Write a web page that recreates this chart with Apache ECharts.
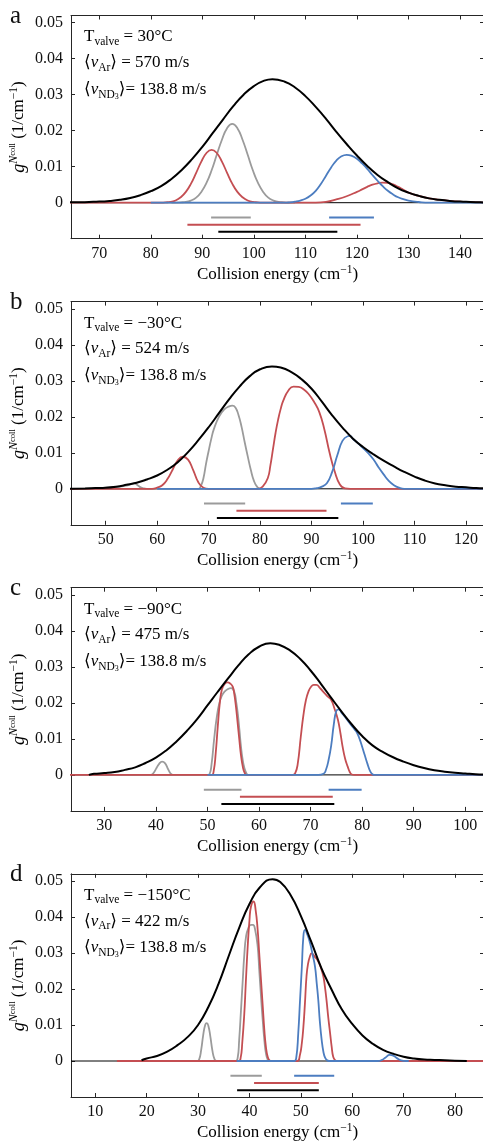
<!DOCTYPE html>
<html><head><meta charset="utf-8">
<script src="https://cdn.jsdelivr.net/npm/echarts@6/dist/echarts.min.js"></script>
<style>html,body{margin:0;padding:0;background:#fff}#c{width:483px;height:1143px}</style>
</head><body><div id="c"></div>
<script>
// ---------------- DATA ----------------
const panelLetters = ['a', 'b', 'c', 'd'];
const valveTemps = ['30', '\u221230', '\u221290', '\u2212150'];
const vArValues = ['570', '524', '475', '422'];
const vND3Value = '138.8';
const yTicks = [0, 0.01, 0.02, 0.03, 0.04, 0.05];
const yLimits = [-0.01, 0.052];
const aXTicks = [70, 80, 90, 100, 110, 120, 130, 140];
const bXTicks = [50, 60, 70, 80, 90, 100, 110, 120];
const cXTicks = [30, 40, 50, 60, 70, 80, 90, 100];
const dXTicks = [10, 20, 30, 40, 50, 60, 70, 80];
const aXLimits = [64.51, 144.66];
const bXLimits = [43.26, 123.5];
const cXLimits = [23.54, 103.63];
const dXLimits = [5.27, 85.65];
// order of range bars below zero: gray, blue, red, black
const segLevels = [-0.0041, -0.0041, -0.0061, -0.0081];
const aSegments = [[91.7, 99.4], [114.6, 123.3], [87.1, 120.7], [93.1, 116.2]];
const bSegments = [[69.1, 77.1], [95.7, 101.9], [75.4, 92.9], [71.6, 95.2]];
const cSegments = [[49.3, 56.6], [73.5, 79.9], [56.3, 74.3], [52.7, 74.6]];
const dSegments = [[36.3, 42.4], [48.7, 56.5], [40.9, 53.5], [37.6, 53.5]];

const aBlack = [[64,0.0001],[66,0.0001],[68,0.0002],[70,0.0003],[72,0.0005],[74,0.0008],[76,0.0013],[78,0.0021],[80,0.0032],[82,0.0046],[84,0.0066],[86,0.0091],[88,0.0121],[90,0.0155],[92,0.0193],[94,0.0231],[96,0.0268],[98,0.0300],[100,0.0324],[102,0.0339],[103.6,0.0343],[106,0.0336],[108,0.0320],[110,0.0296],[112,0.0266],[114,0.0233],[116,0.0197],[118,0.0163],[120,0.0131],[122,0.0102],[124,0.0077],[126,0.0057],[128,0.0040],[130,0.0028],[132,0.0019],[134,0.0012],[136,0.0008],[138,0.0005],[140,0.0003],[142,0.0002],[144,0.0001],[146,0]];
const aGray = [[84,0],[85.8,0.0001],[86.8,0.0002],[87.8,0.0006],[88.8,0.0014],[89.8,0.0030],[90.8,0.0055],[91.8,0.0090],[92.8,0.0133],[93.8,0.0175],[94.8,0.0207],[95.8,0.0219],[96.8,0.0207],[97.8,0.0175],[98.8,0.0133],[99.8,0.0090],[100.8,0.0055],[101.8,0.0030],[102.8,0.0014],[103.8,0.0006],[104.8,0.0002],[105.8,0.0001],[106.8,0],[108,0]];
const aRed = [[64,0],[80,0],[81.8,0],[82.8,0.0001],[83.8,0.0002],[84.8,0.0006],[85.8,0.0015],[86.8,0.0030],[87.8,0.0053],[88.8,0.0083],[89.8,0.0114],[90.8,0.0138],[91.8,0.0147],[92.8,0.0138],[93.8,0.0114],[94.8,0.0083],[95.8,0.0053],[96.8,0.0030],[97.8,0.0015],[98.8,0.0006],[99.8,0.0002],[100.8,0.0001],[101.8,0],[112,0],[114,0.0002],[116,0.0009],[118,0.0018],[120,0.0030],[121,0.0037],[122,0.0044],[123,0.0050],[124,0.0054],[125,0.0056],[126,0.0055],[127,0.0051],[128,0.0044],[129,0.0036],[130,0.0028],[132,0.0019],[134,0.0012],[136,0.0008],[138,0.0005],[140,0.0003],[142,0.0002],[144,0.0001],[146,0]];
const aBlue = [[80,0],[106,0],[107,0.0001],[108,0.0003],[109,0.0006],[110,0.0011],[111,0.0020],[112,0.0033],[113,0.0052],[114,0.0075],[115,0.0098],[116,0.0117],[117,0.0129],[118,0.0133],[119,0.0130],[120,0.0122],[121,0.0109],[122,0.0094],[123,0.0077],[124,0.0061],[125,0.0046],[126,0.0033],[127,0.0023],[128,0.0015],[129,0.0010],[130,0.0006],[132,0.0002],[134,0],[146,0]];

const bBlack = [[43,0],[46,0.0001],[48,0.0002],[50,0.0003],[52,0.0006],[54,0.0011],[56,0.0017],[58,0.0026],[60,0.0037],[62,0.0053],[64,0.0074],[66,0.0102],[68,0.0135],[70,0.0171],[72,0.0210],[74,0.0249],[76,0.0284],[78,0.0313],[80,0.0332],[82.3,0.0340],[84,0.0337],[86,0.0325],[88,0.0305],[90,0.0278],[92,0.0242],[94,0.0204],[96,0.0170],[98,0.0140],[100,0.0116],[102,0.0096],[104,0.0078],[106,0.0062],[108,0.0047],[110,0.0034],[112,0.0023],[114,0.0015],[116,0.0010],[118,0.0006],[120,0.0004],[122,0.0002],[124,0.0001]];
const bGray = [[43.5,0],[48,0.0001],[50,0.0003],[52,0.0005],[54,0.0009],[55,0.0013],[55.6,0.0015],[56.2,0.0010],[56.8,0.0004],[57.4,0.0001],[58,0],[68,0],[68.5,0.0008],[69,0.0030],[69.5,0.0070],[70,0.0105],[70.5,0.0138],[71,0.0165],[72,0.0200],[73,0.0220],[74,0.0229],[74.6,0.0231],[75.2,0.0226],[75.8,0.0205],[76.4,0.0172],[77,0.0130],[77.6,0.0090],[78.2,0.0052],[78.8,0.0022],[79.4,0.0006],[80,0],[82,0]];
const bRed = [[43,0],[59,0],[60,0.0003],[61,0.0010],[62,0.0027],[63,0.0053],[64,0.0079],[65,0.0089],[66,0.0081],[67,0.0052],[68,0.0018],[69,0.0003],[70,0],[79.5,0],[80.5,0.0006],[81.5,0.0030],[82,0.0065],[82.5,0.0110],[83,0.0155],[83.5,0.0192],[84,0.0222],[84.5,0.0245],[85.5,0.0273],[86.5,0.0284],[87.5,0.0283],[88.5,0.0276],[89.5,0.0262],[90.5,0.0241],[91.5,0.0213],[92.5,0.0164],[93.5,0.0100],[94.5,0.0048],[95.5,0.0012],[96.5,0.0001],[97.5,0],[124,0]];
const bBlue = [[60,0],[90,0],[91,0.0002],[92,0.0006],[93,0.0016],[94,0.0047],[95,0.0093],[96,0.0133],[97,0.0146],[97.5,0.0147],[98,0.0139],[99,0.0127],[100,0.0113],[101,0.0099],[102,0.0082],[103,0.0060],[104,0.0040],[105,0.0022],[106,0.0010],[107,0.0003],[108,0],[124,0]];

const cBlack = [[27,0],[28,0.0003],[30,0.0005],[32,0.0008],[34,0.0014],[36,0.0021],[38,0.0033],[40,0.0048],[42,0.0068],[44,0.0093],[46,0.0122],[48,0.0155],[50,0.0193],[52,0.0231],[54,0.0268],[56,0.0304],[58,0.0335],[60,0.0356],[62.2,0.0366],[64,0.0361],[66,0.0346],[68,0.0322],[70,0.0290],[72,0.0253],[74,0.0214],[76,0.0176],[78,0.0140],[80,0.0108],[82,0.0082],[84,0.0064],[86,0.0049],[88,0.0037],[90,0.0027],[92,0.0019],[94,0.0013],[96,0.0009],[98,0.0006],[100,0.0004],[102,0.0002],[104,0.0001]];
const cGray = [[27,0],[38.8,0],[39.4,0.0003],[40,0.0016],[40.6,0.0030],[41.2,0.0037],[41.8,0.0032],[42.4,0.0015],[43,0.0002],[43.5,0],[50,0],[50.4,0.0002],[50.8,0.0030],[51.3,0.0100],[51.8,0.0160],[52.3,0.0199],[52.8,0.0220],[53.3,0.0231],[53.9,0.0238],[54.6,0.0241],[55.2,0.0231],[55.6,0.0200],[55.9,0.0168],[56.2,0.0125],[56.5,0.0079],[56.8,0.0045],[57.15,0.0020],[57.5,0.0006],[57.9,0],[60,0]];
const cRed = [[23,0],[50.8,0],[51.2,0.0010],[51.6,0.0060],[52,0.0134],[52.4,0.0200],[52.8,0.0237],[53.3,0.0252],[53.9,0.0257],[54.4,0.0254],[54.9,0.0245],[55.2,0.0225],[55.5,0.0193],[55.85,0.0145],[56.2,0.0095],[56.5,0.0055],[56.85,0.0023],[57.2,0.0006],[57.6,0],[66.5,0],[67,0.0004],[67.5,0.0030],[68.1,0.0106],[68.6,0.0165],[69.1,0.0208],[69.6,0.0232],[70.1,0.0245],[70.6,0.0250],[71.1,0.0250],[71.9,0.0240],[72.7,0.0227],[73.3,0.0218],[74,0.0208],[74.6,0.0186],[75.3,0.0153],[75.8,0.0115],[76.2,0.0079],[76.7,0.0045],[77.2,0.0023],[77.6,0.0008],[78,0.0001],[78.4,0],[104,0]];
const cBlue = [[50,0],[71.5,0],[72.5,0.0003],[73,0.0015],[73.5,0.0042],[74,0.0082],[74.5,0.0140],[75,0.0178],[75.5,0.0182],[76,0.0173],[77,0.0155],[78,0.0136],[78.5,0.0127],[79,0.0117],[79.5,0.0100],[80,0.0078],[80.5,0.0055],[81,0.0032],[81.5,0.0012],[82,0.0002],[82.5,0],[104,0]];

const dBlack = [[19,0.0002],[20,0.0007],[22,0.0014],[24,0.0026],[26,0.0044],[28,0.0067],[30,0.0100],[32,0.0150],[34,0.0215],[36,0.0293],[38,0.0370],[40,0.0436],[42,0.0482],[44.5,0.0505],[46,0.0497],[48,0.0461],[50,0.0403],[52,0.0332],[54,0.0258],[56,0.0198],[58,0.0143],[60,0.0103],[62,0.0071],[64,0.0048],[66,0.0031],[68,0.0020],[70,0.0012],[72,0.0007],[74,0.0004],[76,0.0003],[78,0.0002],[80,0.0001],[82.3,0]];
const dGray = [[28,0],[29.8,0],[30.2,0.0004],[30.6,0.0030],[31,0.0072],[31.4,0.0101],[31.7,0.0105],[32,0.0098],[32.4,0.0067],[32.8,0.0028],[33.2,0.0005],[33.6,0],[37.3,0],[37.7,0.0008],[38,0.0058],[38.35,0.0140],[38.7,0.0225],[39,0.0295],[39.33,0.0345],[39.8,0.0370],[40.3,0.0378],[40.7,0.0378],[41.1,0.0365],[41.6,0.0318],[41.9,0.0255],[42.25,0.0179],[42.6,0.0110],[42.9,0.0058],[43.2,0.0022],[43.55,0.0004],[43.9,0],[45,0]];
const dRed = [[14.2,0],[37.9,0],[38.3,0.0010],[38.6,0.0050],[39,0.0132],[39.3,0.0220],[39.66,0.0318],[40,0.0390],[40.3,0.0429],[40.8,0.0443],[41.2,0.0420],[41.6,0.0364],[41.9,0.0300],[42.25,0.0225],[42.6,0.0150],[42.9,0.0086],[43.2,0.0040],[43.55,0.0012],[43.9,0.0002],[44.3,0],[49.3,0],[49.8,0.0015],[50.2,0.0050],[50.5,0.0095],[50.8,0.0160],[51.1,0.0234],[51.4,0.0270],[51.8,0.0292],[52.1,0.0299],[52.7,0.0290],[53.4,0.0276],[54,0.0255],[54.4,0.0234],[54.7,0.0205],[55,0.0169],[55.35,0.0120],[55.7,0.0077],[56,0.0040],[56.3,0.0012],[56.7,0.0002],[57.1,0],[86,0]];
const dBlue = [[37.5,0],[48.7,0],[49.1,0.0008],[49.5,0.0077],[49.85,0.0170],[50.2,0.0262],[50.5,0.0346],[50.8,0.0364],[51.3,0.0350],[51.8,0.0327],[52.3,0.0295],[52.76,0.0262],[53.1,0.0215],[53.4,0.0169],[53.7,0.0110],[54.06,0.0058],[54.4,0.0025],[54.7,0.0010],[55.1,0.0002],[55.5,0],[65,0],[65.8,0.0003],[66.5,0.0010],[67.3,0.0017],[68,0.0015],[68.7,0.0008],[69.5,0.0002],[70.5,0],[71,0]];

// ---------------- LAYOUT / STYLE ----------------
const FONT = "'Liberation Serif','DejaVu Serif',serif";
const GL = 71, GW = 413, GH = 223.2;
const tops = [15.5, 301.6, 587.7, 873.8];
const COL = {gray: '#9b9b9b', red: '#c44e52', blue: '#4c7dc0', black: '#000000', frame: '#262626'};
const segColors = [COL.gray, COL.blue, COL.red, COL.black];

const panels = [
  {black: aBlack, gray: aGray, red: aRed, blue: aBlue, seg: aSegments, xt: aXTicks, xl: aXLimits},
  {black: bBlack, gray: bGray, red: bRed, blue: bBlue, seg: bSegments, xt: bXTicks, xl: bXLimits},
  {black: cBlack, gray: cGray, red: cRed, blue: cBlue, seg: cSegments, xt: cXTicks, xl: cXLimits},
  {black: dBlack, gray: dGray, red: dRed, blue: dBlue, seg: dSegments, xt: dXTicks, xl: dXLimits}
];

const grids = [], xAxes = [], yAxes = [], series = [], graphics = [];
const lineStyleAx = {color: COL.frame, width: 1};
const TXT = '#111';

const richText = {
  m: {fontFamily: FONT, fontSize: 17, lineHeight: 22, color: TXT},
  i: {fontFamily: FONT, fontSize: 17, lineHeight: 22, fontStyle: 'italic', color: TXT},
  s: {fontFamily: FONT, fontSize: 11.5, lineHeight: 11, verticalAlign: 'bottom', color: TXT},
  ss: {fontFamily: FONT, fontSize: 8, lineHeight: 6, verticalAlign: 'bottom', color: TXT}
};

panels.forEach((p, i) => {
  const top = tops[i];
  grids.push({left: GL, top: top, width: GW, height: GH, containLabel: false, outerBoundsMode: 'none'});
  xAxes.push({
    type: 'value', gridIndex: i, min: p.xl[0], max: p.xl[1], position: 'bottom',
    axisLine: {show: true, onZero: false, lineStyle: lineStyleAx},
    axisTick: {show: true, inside: true, length: 4, customValues: p.xt, lineStyle: lineStyleAx},
    axisLabel: {show: true, customValues: p.xt, margin: 7, fontFamily: FONT, fontSize: 16, color: TXT},
    splitLine: {show: false}
  });
  xAxes.push({
    type: 'value', gridIndex: i, min: p.xl[0], max: p.xl[1], position: 'top',
    axisLine: {show: true, onZero: false, lineStyle: lineStyleAx},
    axisTick: {show: true, inside: true, length: 4, customValues: p.xt, lineStyle: lineStyleAx},
    axisLabel: {show: false}, splitLine: {show: false}
  });
  yAxes.push({
    type: 'value', gridIndex: i, min: yLimits[0], max: yLimits[1], position: 'left',
    axisLine: {show: true, onZero: false, lineStyle: lineStyleAx},
    axisTick: {show: true, inside: true, length: 4, customValues: yTicks, lineStyle: lineStyleAx},
    axisLabel: {show: true, customValues: yTicks, margin: 8, fontFamily: FONT, fontSize: 16, color: TXT,
      formatter: v => (Math.abs(v) < 1e-9 ? '0' : v.toFixed(2))},
    splitLine: {show: false}
  });
  yAxes.push({
    type: 'value', gridIndex: i, min: yLimits[0], max: yLimits[1], position: 'right',
    axisLine: {show: true, onZero: false, lineStyle: lineStyleAx},
    axisTick: {show: true, inside: true, length: 4, customValues: yTicks, lineStyle: lineStyleAx},
    axisLabel: {show: false}, splitLine: {show: false}
  });

  const xi = 2 * i, yi = 2 * i;
  const mk = (data, color, width, smooth) => ({
    type: 'line', xAxisIndex: xi, yAxisIndex: yi, data: data, showSymbol: false, symbol: 'none',
    smooth: smooth, silent: true, animation: false,
    lineStyle: {color: color, width: width, join: 'round', cap: 'butt'}
  });
  series.push(mk([[p.xl[0], 0], [p.xl[1], 0]], '#000', 1, false));
  series.push(mk(p.gray, COL.gray, 1.8, 0.5));
  series.push(mk(p.red, COL.red, 1.8, 0.5));
  series.push(mk(p.blue, COL.blue, 1.8, 0.5));
  series.push(mk(p.black, COL.black, 2, 0.5));
  p.seg.forEach((s, k) => {
    series.push(mk([[s[0], segLevels[k]], [s[1], segLevels[k]]], segColors[k], 2, false));
  });

  // panel letter
  graphics.push({type: 'text', x: 10, y: top + 0.5, silent: true,
    style: {text: panelLetters[i], fontFamily: FONT, fontSize: 25, fill: TXT, verticalAlign: 'middle', align: 'left'}});
  // annotations
  const lines = [
    '{m|T}{s|valve}{m| = ' + valveTemps[i] + '\u00b0C}',
    '{m|\u27e8}{i|v}{s|Ar}{m|\u27e9 = ' + vArValues[i] + ' m/s}',
    '{m|\u27e8}{i|v}{s|ND}{ss|3}{m|\u27e9= ' + vND3Value + ' m/s}'
  ];
  const offs = [10.5, 36.3, 63];
  lines.forEach((t, k) => {
    graphics.push({type: 'text', x: 84, y: top + offs[k], silent: true,
      style: {text: t, rich: richText, align: 'left', verticalAlign: 'top'}});
  });
  // x-axis title
  graphics.push({type: 'text', x: GL + 206.5, y: top + GH + 36, silent: true,
    style: {text: '{m|Collision energy (cm}{u|\u22121}{m|)}', align: 'center', verticalAlign: 'middle',
      rich: {m: {fontFamily: FONT, fontSize: 17, lineHeight: 22, color: TXT},
             u: {fontFamily: FONT, fontSize: 11.5, lineHeight: 13, verticalAlign: 'top', color: TXT}}}});
  // y-axis title (rotated)
  graphics.push({type: 'text', x: 19, y: top + GH / 2, rotation: Math.PI / 2, silent: true,
    style: {text: '{g|g}{n|N}{c|coll}{m| (1/cm}{u|\u22121}{m|)}', align: 'center', verticalAlign: 'middle',
      rich: {g: {fontFamily: FONT, fontSize: 18, lineHeight: 22, fontStyle: 'italic', color: TXT},
             n: {fontFamily: FONT, fontSize: 12, lineHeight: 12, verticalAlign: 'top', fontStyle: 'italic', color: TXT},
             c: {fontFamily: FONT, fontSize: 8.5, lineHeight: 18, verticalAlign: 'top', color: TXT},
             m: {fontFamily: FONT, fontSize: 17, lineHeight: 22, color: TXT},
             u: {fontFamily: FONT, fontSize: 11.5, lineHeight: 13, verticalAlign: 'top', color: TXT}}}});
});

const chart = echarts.init(document.getElementById('c'), null, {renderer: 'canvas'});
chart.setOption({
  animation: false,
  backgroundColor: '#ffffff',
  grid: grids, xAxis: xAxes, yAxis: yAxes, series: series, graphic: graphics
});
</script></body></html>
